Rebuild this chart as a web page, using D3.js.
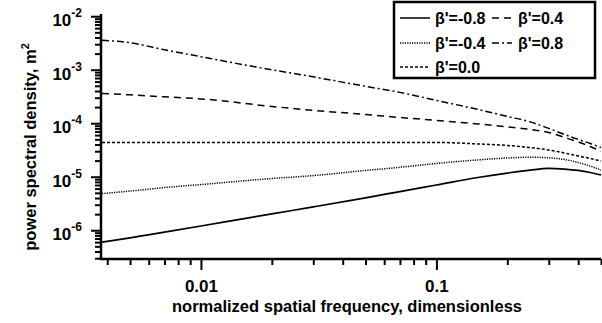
<!DOCTYPE html>
<html>
<head>
<meta charset="utf-8">
<script src="https://cdn.jsdelivr.net/npm/d3@7"></script>
<style>
  body { margin: 0; background: #fff; }
  svg { font-family: "Liberation Sans", Arial, sans-serif; font-weight: bold; }
</style>
</head>
<body>
<svg id="chart" width="602" height="323"></svg>
<script>
// spatial frequencies (dimensionless) where the curves were read
const freq = [0.0038, 0.005, 0.007, 0.01, 0.02, 0.03, 0.05, 0.07, 0.1, 0.15, 0.2, 0.25, 0.3, 0.35, 0.4, 0.45, 0.5];

// power spectral density, m^2, one array per beta'
const psdM08 = [6.0e-7, 7.18e-7, 9.2e-7, 1.20e-6, 2.02e-6, 2.73e-6, 4.03e-6, 5.28e-6, 7.0e-6, 9.66e-6, 1.17e-5, 1.33e-5, 1.43e-5, 1.39e-5, 1.31e-5, 1.20e-5, 1.08e-5];
const psdM04 = [4.84e-6, 5.40e-6, 6.28e-6, 7.14e-6, 9.25e-6, 1.05e-5, 1.31e-5, 1.50e-5, 1.77e-5, 2.06e-5, 2.24e-5, 2.31e-5, 2.26e-5, 2.10e-5, 1.85e-5, 1.58e-5, 1.33e-5];
const psd00  = [4.37e-5, 4.37e-5, 4.37e-5, 4.37e-5, 4.37e-5, 4.37e-5, 4.37e-5, 4.37e-5, 4.37e-5, 4.1e-5, 3.84e-5, 3.52e-5, 3.16e-5, 2.78e-5, 2.44e-5, 2.19e-5, 1.97e-5];
const psdP04 = [3.61e-4, 3.39e-4, 3.11e-4, 2.85e-4, 2.06e-4, 1.74e-4, 1.46e-4, 1.28e-4, 1.13e-4, 9.7e-5, 8.53e-5, 7.65e-5, 6.73e-5, 5.42e-5, 4.47e-5, 3.68e-5, 2.96e-5];
const psdP08 = [3.56e-3, 3.19e-3, 2.36e-3, 1.75e-3, 9.96e-4, 7.36e-4, 4.89e-4, 3.77e-4, 2.67e-4, 1.81e-4, 1.34e-4, 1.06e-4, 8.0e-5, 6.17e-5, 4.98e-5, 4.19e-5, 3.52e-5];

const seriesLabels = ["β'=-0.8", "β'=-0.4", "β'=0.0", "β'=0.4", "β'=0.8"];
const seriesValues = [psdM08, psdM04, psd00, psdP04, psdP08];
const dashes = [null, "1.2,1.2", "3,2", "7,5", "7,3,2,3"];

// tick values
const xMajor = [0.01, 0.1];
const xMinor = [0.004, 0.005, 0.006, 0.007, 0.008, 0.009,
                0.02, 0.03, 0.04, 0.05, 0.06, 0.07, 0.08, 0.09,
                0.2, 0.3, 0.4, 0.5];
const yMajor = [1e-6, 1e-5, 1e-4, 1e-3, 1e-2];
const yMinor = [];
[1e-7, 1e-6, 1e-5, 1e-4, 1e-3].forEach(d => {
  for (let k = 2; k <= 9; k++) {
    const v = d * k;
    if (v >= 2.9e-7 && v <= 1.1e-2) yMinor.push(v);
  }
});

const svg = d3.select("#chart");

const x = d3.scaleLog().domain([0.0038, 0.5]).range([102, 601]);
const y = d3.scaleLog().domain([2.9e-7, 1.1e-2]).range([259, 14]);

// === axes ===
const xAxisG = svg.append("g").attr("transform", "translate(0,259)");
xAxisG.append("g")
  .call(d3.axisBottom(x).tickValues(xMinor).tickSize(6).tickFormat(""))
  .call(g => g.select(".domain").remove());
xAxisG.append("g")
  .call(d3.axisBottom(x).tickValues(xMajor).tickSize(11).tickFormat(d => d === 0.01 ? "0.01" : "0.1"))
  .call(g => g.select(".domain").remove())
  .call(g => g.selectAll(".tick text")
    .attr("y", 33).attr("dy", 0)
    .attr("font-size", 17)
    .attr("font-family", "Liberation Sans")
    .attr("font-weight", "bold"));

const yAxisG = svg.append("g").attr("transform", "translate(101,0)");
yAxisG.append("g")
  .call(d3.axisLeft(y).tickValues(yMinor).tickSize(6).tickFormat(""))
  .call(g => g.select(".domain").remove());
yAxisG.append("g")
  .call(d3.axisLeft(y).tickValues(yMajor).tickSize(10).tickFormat(""))
  .call(g => g.select(".domain").remove())
  .call(g => g.selectAll(".tick").each(function (d) {
    const t = d3.select(this).append("text")
      .attr("x", -19)
      .attr("y", 9.5)
      .attr("text-anchor", "end")
      .attr("fill", "#000")
      .attr("font-size", 17)
      .attr("font-family", "Liberation Sans")
      .attr("font-weight", "bold");
    t.append("tspan").text("10");
    t.append("tspan").attr("font-size", 12).attr("dy", -9).text(String(Math.round(Math.log10(d))));
  }));

svg.selectAll(".tick line").attr("stroke", "#000").attr("stroke-width", 2);

// axis lines
svg.append("line").attr("x1", 101).attr("x2", 101).attr("y1", 14).attr("y2", 260)
  .attr("stroke", "#000").attr("stroke-width", 2.5);
svg.append("line").attr("x1", 100).attr("x2", 601).attr("y1", 259).attr("y2", 259)
  .attr("stroke", "#000").attr("stroke-width", 2.5);

// axis titles
svg.append("text")
  .attr("x", 347).attr("y", 312)
  .attr("text-anchor", "middle")
  .attr("font-size", 16.5)
  .text("normalized spatial frequency, dimensionless");

const yTitle = svg.append("text")
  .attr("transform", "translate(36,147) rotate(-90)")
  .attr("text-anchor", "middle")
  .attr("font-size", 16.5);
yTitle.append("tspan").text("power spectral density, m");
yTitle.append("tspan").attr("font-size", 11).attr("dy", -7).text("2");

// === curves ===
const line = d3.line()
  .x((d, i) => x(freq[i]))
  .y(d => y(d))
  .curve(d3.curveMonotoneX);

svg.append("g").selectAll("path")
  .data(seriesValues)
  .enter()
  .append("path")
  .attr("d", d => line(d))
  .attr("fill", "none")
  .attr("stroke", "#000")
  .attr("stroke-width", (d, i) => i === 0 ? 1.7 : 1.5)
  .attr("stroke-dasharray", (d, i) => dashes[i]);

// === legend ===
const legend = svg.append("g");
legend.append("rect")
  .attr("x", 394).attr("y", 2).attr("width", 201).attr("height", 76)
  .attr("fill", "#fff").attr("stroke", "#000").attr("stroke-width", 2.5);

const legendPos = [
  { x0: 400, x1: 430, tx: 435, ty: 18 },
  { x0: 400, x1: 430, tx: 435, ty: 43 },
  { x0: 400, x1: 430, tx: 435, ty: 67 },
  { x0: 492, x1: 512, tx: 518, ty: 18 },
  { x0: 492, x1: 512, tx: 518, ty: 43 }
];

seriesLabels.forEach((lab, i) => {
  const p = legendPos[i];
  legend.append("line")
    .attr("x1", p.x0).attr("x2", p.x1).attr("y1", p.ty).attr("y2", p.ty)
    .attr("stroke", "#000").attr("stroke-width", 1.5)
    .attr("stroke-dasharray", dashes[i]);
  legend.append("text")
    .attr("x", p.tx).attr("y", p.ty + 6)
    .attr("font-size", 16)
    .text(lab);
});
</script>
</body>
</html>
